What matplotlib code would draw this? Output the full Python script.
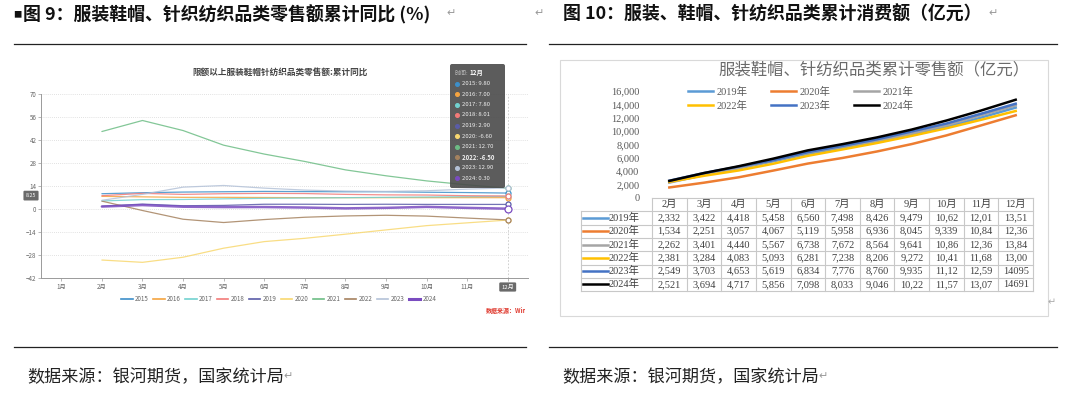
import matplotlib
matplotlib.use('Agg')
import matplotlib.pyplot as plt
from matplotlib.patches import Rectangle, FancyBboxPatch
from matplotlib.transforms import Bbox
from matplotlib.ticker import StrMethodFormatter
from matplotlib.font_manager import FontProperties
from matplotlib.lines import Line2D

plt.rcParams['font.family'] = ['Noto Sans CJK SC', 'DejaVu Sans']

# ── Left chart: cumulative YoY (%) ──
months_l = ['1月', '2月', '3月', '4月', '5月', '6月', '7月', '8月', '9月', '10月', '11月', '12月']
years_l = ['2015', '2016', '2017', '2018', '2019', '2020', '2021', '2022', '2023', '2024']
# values for 2月 .. 12月
yoy_2015 = [9.4, 10.0, 10.4, 10.6, 10.8, 10.7, 10.6, 10.6, 10.3, 10.1, 9.8]
yoy_2016 = [7.8, 7.5, 7.2, 7.2, 7.1, 7.0, 7.0, 7.0, 7.0, 7.0, 7.0]
yoy_2017 = [5.0, 5.8, 5.9, 6.3, 6.6, 6.8, 7.0, 7.2, 7.4, 7.6, 7.8]
yoy_2018 = [8.2, 9.6, 9.0, 9.4, 9.6, 9.5, 9.0, 8.7, 8.6, 8.2, 8.01]
yoy_2019 = [1.8, 3.1, 2.1, 2.3, 3.0, 3.0, 2.9, 3.0, 2.9, 2.9, 2.9]
yoy_2020 = [-30.9, -32.3, -29.2, -23.7, -19.7, -17.7, -15.2, -12.6, -10.0, -8.3, -6.6]
yoy_2021 = [47.2, 53.9, 47.8, 38.9, 33.5, 29.0, 23.9, 20.3, 17.2, 14.8, 12.7]
yoy_2022 = [4.9, -0.8, -6.1, -8.1, -6.3, -4.9, -4.1, -3.7, -4.2, -5.4, -6.5]
yoy_2023 = [5.4, 9.0, 13.4, 14.4, 12.8, 11.6, 11.0, 10.8, 11.2, 12.2, 12.9]
yoy_2024 = [1.6, 2.5, 1.5, 1.3, 1.3, 1.0, 0.5, 0.8, 1.4, 0.8, 0.3]
pointer_value = 8.25

# ── Right chart: cumulative retail sales (亿元) ──
months_r = ['2月', '3月', '4月', '5月', '6月', '7月', '8月', '9月', '10月', '11月', '12月']
years_r = ['2019年', '2020年', '2021年', '2022年', '2023年', '2024年']
sales_2019 = [2332, 3422, 4418, 5458, 6560, 7498, 8426, 9479, 10620, 12010, 13510]
sales_2020 = [1534, 2251, 3057, 4067, 5119, 5958, 6936, 8045, 9339, 10840, 12360]
sales_2021 = [2262, 3401, 4440, 5567, 6738, 7672, 8564, 9641, 10860, 12360, 13840]
sales_2022 = [2381, 3284, 4083, 5093, 6281, 7238, 8206, 9272, 10410, 11680, 13000]
sales_2023 = [2549, 3703, 4653, 5619, 6834, 7776, 8760, 9935, 11120, 12590, 14095]
sales_2024 = [2521, 3694, 4717, 5856, 7098, 8033, 9046, 10220, 11570, 13070, 14691]
plain_cells = [('2023年', '12月'), ('2024年', '12月')]   # shown without thousands separator

left_series = [yoy_2015, yoy_2016, yoy_2017, yoy_2018, yoy_2019,
               yoy_2020, yoy_2021, yoy_2022, yoy_2023, yoy_2024]
left_colors = ['#3d8fc9', '#f5a440', '#72d2d0', '#f27a78', '#5a5ca8',
               '#f8d870', '#6dbd85', '#a5825f', '#b4c2d8', '#7a4cc0']
right_series = [sales_2019, sales_2020, sales_2021, sales_2022, sales_2023, sales_2024]
right_colors = ['#5B9BD5', '#ED7D31', '#A5A5A5', '#FFC000', '#4472C4', '#000000']

W, H = 1080, 395


def pbox(x0, y0, x1, y1):
    return [x0 / W, 1 - y1 / H, (x1 - x0) / W, (y1 - y0) / H]


fig = plt.figure(figsize=(W / 100, H / 100), dpi=100)
fig.patch.set_facecolor('white')

# ── Left chart ──
axL = fig.add_axes(pbox(41, 94, 528, 278.3))
xs = list(range(1, 12))
for yr, vals, c in zip(years_l, left_series, left_colors):
    lw = 1.8 if yr == '2024' else 0.9
    axL.plot(xs, vals, color=c, lw=lw, alpha=0.85, zorder=3, solid_capstyle='round')
    ms = 5 if yr == '2024' else 3.6
    axL.plot(xs[-1], vals[-1], 'o', ms=ms, mfc='white', mec=c, mew=0.9, zorder=4)
axL.set_xlim(-0.5, 11.5)
axL.set_ylim(-42, 70)
axL.set_yticks(range(-42, 71, 14))
axL.set_xticks(range(12))
axL.set_xticklabels(months_l[:11] + [''])
axL.grid(axis='y', ls=(0, (1, 1.5)), color='#d8d8d8', lw=0.6)
axL.set_axisbelow(True)
for s in ['top', 'right']:
    axL.spines[s].set_visible(False)
for s in ['left', 'bottom']:
    axL.spines[s].set_color('#9a9a9a')
    axL.spines[s].set_linewidth(0.7)
axL.tick_params(labelsize=4.5, colors='#9a9a9a', labelcolor='#666666', length=2, width=0.5, pad=1.2)
axL.axvline(11, color='#c8c8c8', ls=(0, (2, 2)), lw=0.6, zorder=2)

# ── Right chart ──
axR = fig.add_axes(pbox(652, 91, 1033, 197.7))
xr = list(range(len(months_r)))
handles = []
for yr, vals, c in zip(years_r, right_series, right_colors):
    h, = axR.plot(xr, vals, color=c, lw=1.8, label=yr)
    handles.append(h)
axR.set_xlim(-0.5, 10.5)
axR.set_ylim(0, 16000)
axR.set_yticks(range(0, 16001, 2000))
axR.yaxis.set_major_formatter(StrMethodFormatter('{x:,.0f}'))
axR.set_xticks([])
for s in axR.spines.values():
    s.set_visible(False)
serif = ['Liberation Serif', 'Noto Sans CJK SC']
axR.tick_params(axis='y', length=0, pad=9, labelsize=7.5, labelcolor='#595959')
for lab in axR.get_yticklabels():
    lab.set_family(serif)

order = [0, 3, 1, 4, 2, 5]
fig.legend([handles[i] for i in order], [years_r[i] for i in order], ncol=3,
           loc='upper left', bbox_to_anchor=(688 / W, 1 - 87 / H),
           frameon=False, borderpad=0, borderaxespad=0,
           prop=FontProperties(family=serif, size=7.5),
           handlelength=2.4, handletextpad=0.3, columnspacing=2.3, labelspacing=0.35,
           labelcolor='#595959')

# ── Overlay in pixel coordinates ──
ov = fig.add_axes([0, 0, 1, 1], zorder=10)
ov.set_xlim(0, W)
ov.set_ylim(H, 0)
ov.axis('off')

# captions
ov.text(13, 15, '■', fontsize=6, va='center', ha='left', color='#111')
ov.text(23, 15, '图 9：服装鞋帽、针织纺织品类零售额累计同比 (%)', fontsize=12.9,
        fontweight='bold', va='center', ha='left', color='#111')
ov.text(446, 13, '↵', fontsize=8, va='center', ha='left', color='#999',
        family=['DejaVu Sans'])
ov.text(534, 13, '↵', fontsize=8, va='center', ha='left', color='#999',
        family=['DejaVu Sans'])
ov.text(563, 15, '图 10：服装、鞋帽、针纺织品类累计消费额（亿元）', fontsize=12.9,
        fontweight='bold', va='center', ha='left', color='#111')
ov.text(988, 13, '↵', fontsize=8, va='center', ha='left', color='#999',
        family=['DejaVu Sans'])
for x0, x1 in [(14, 526), (549, 1057)]:
    ov.plot([x0, x1], [44, 44], color='#222', lw=0.9)
    ov.plot([x0, x1], [347, 347], color='#222', lw=0.9)
for x0 in [27, 562]:
    ov.text(x0, 377, '数据来源：银河期货，国家统计局', fontsize=12.3,
            va='center', ha='left', color='#222')
    ov.text(x0 + 256, 376, '↵', fontsize=8, va='center', ha='left', color='#999',
            family=['DejaVu Sans'])

# left chart decorations
ov.text(280, 72, '限额以上服装鞋帽针纺织品类零售额:累计同比', fontsize=6.2,
        fontweight='bold', ha='center', va='center', color='#444')
fig.legend([Line2D([], [], color=c, lw=(2.2 if yr == '2024' else 1.2)) for yr, c in zip(years_l, left_colors)],
           years_l, ncol=10, loc='center', bbox_to_anchor=(279 / W, 1 - 299 / H),
           frameon=False, fontsize=4.5, handlelength=1.8, handletextpad=0.4,
           columnspacing=0.7, labelcolor='#666666')
src = ov.text(486, 310, '数据来源：Wind', fontsize=4.3, color='#e03c31',
              ha='left', va='center', fontweight='bold')
src.set_clip_box(Bbox.from_extents(0, 0, 525, H))
src.set_clip_on(True)

# axis pointer labels
x12 = axL.transData.transform((11, -42))[0]
ov.text(x12, 287, months_l[-1], fontsize=4.3, color='white', ha='center', va='center',
        bbox=dict(boxstyle='round,pad=0.35,rounding_size=0.2', fc='#6a6a6a', ec='none'))
yp = H - axL.transData.transform((0, pointer_value))[1]
ov.text(31, yp, f'{pointer_value:.2f}', fontsize=3.8, color='white', ha='center', va='center',
        bbox=dict(boxstyle='round,pad=0.45,rounding_size=0.2', fc='#6a6a6a', ec='none'))

# tooltip
ov.add_patch(FancyBboxPatch((450, 64), 55, 124, boxstyle='round,pad=0,rounding_size=2',
                            fc='#4a4a4a', ec='none', alpha=0.9))
ov.text(455, 73, '时间:', fontsize=4.3, color='#bbbbbb', ha='left', va='center')
ov.text(470, 73, months_l[-1], fontsize=4.5, color='white', ha='left', va='center', fontweight='bold')
for i, (yr, vals, c) in enumerate(zip(years_l, left_series, left_colors)):
    y = 83.5 + i * 10.5
    ov.plot(456.7, y, 'o', ms=2.6, color=c)
    ov.text(462, y, f'{yr}: {vals[-1]:.2f}', fontsize=4.3, color='#f0f0f0',
            ha='left', va='center', fontweight=('bold' if yr == '2022' else 'normal'))

# right chart frame
ov.add_patch(Rectangle((560, 60), 488, 256, fill=False, ec='#d9d9d9', lw=0.8))
ov.text(874, 70, '服装鞋帽、针纺织品类累计零售额（亿元）', fontsize=11.8,
        ha='center', va='center', color='#6b6b6b')
ov.text(1048, 302, '↵', fontsize=7, va='center', ha='left', color='#aaa', family=['DejaVu Sans'])

# data table under the right chart
cx = [axR.transData.transform((i, 0))[0] for i in xr]
bw = cx[1] - cx[0]
left_edge = 580.7
tab_top = 198.0
row_h = 13.3
grid_c = '#c8c8c8'
n_rows = len(years_r)
bottom = tab_top + row_h * (n_rows + 1)
col_edges = [c - bw / 2 for c in cx] + [cx[-1] + bw / 2]
# horizontal borders
ov.plot([col_edges[0], col_edges[-1]], [tab_top, tab_top], color=grid_c, lw=0.8)
for r in range(1, n_rows + 2):
    yy = tab_top + r * row_h
    ov.plot([left_edge, col_edges[-1]], [yy, yy], color=grid_c, lw=0.8)
# vertical borders
ov.plot([left_edge, left_edge], [tab_top + row_h, bottom], color=grid_c, lw=0.8)
for xe in col_edges:
    ov.plot([xe, xe], [tab_top, bottom], color=grid_c, lw=0.8)
# header
for m, c in zip(months_r, cx):
    ov.text(c, tab_top + row_h / 2, m, fontsize=7.5, family=serif, color='#404040',
            ha='center', va='center')
# rows
for r, (yr, vals, col) in enumerate(zip(years_r, right_series, right_colors)):
    yy = tab_top + (r + 1.5) * row_h
    ov.plot([583, 608], [yy, yy], color=col, lw=1.8)
    ov.text(608.5, yy, yr, fontsize=7.5, family=serif, color='#404040', ha='left', va='center')
    for m, v, c in zip(months_r, vals, cx):
        s = str(v) if (yr, m) in plain_cells else f'{v:,}'
        ov.text(c, yy, s[:5], fontsize=7.5, family=serif, color='#404040',
                ha='center', va='center')

fig.savefig('out.png', dpi=100)
